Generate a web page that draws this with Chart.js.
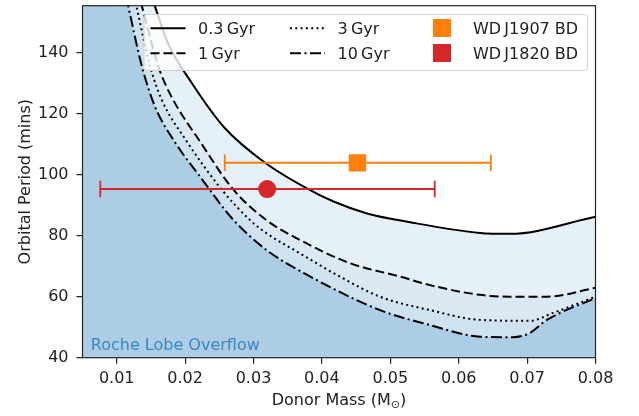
<!DOCTYPE html>
<html>
<head>
<meta charset="utf-8">
<script src="https://cdn.jsdelivr.net/npm/chart.js@4.4.1/dist/chart.umd.min.js"></script>
<style>
  html, body { margin: 0; padding: 0; background: #fff; }
  #wrap { width: 639px; height: 416px; }
</style>
</head>
<body>
<div id="wrap"><canvas id="periodChart" width="639" height="416"></canvas></div>
<script>
// axis ticks
const xTicks = [0.01, 0.02, 0.03, 0.04, 0.05, 0.06, 0.07, 0.08];
const yTicks = [40, 60, 80, 100, 120, 140];

// period minimum tracks (donor mass in Msun, period in mins)
// first two points sit above the plot so the fill covers the left side
const mass03   = [0.005, 0.0140, 0.0156, 0.0175, 0.0210, 0.0258, 0.0317, 0.0378, 0.0417, 0.0466, 0.0529, 0.0631, 0.0675, 0.0800];
const period03 = [165,   165,    155.1,  143.1,  130.0,  115.3,  103.9,  95.5,   91.2,   87.3,   84.4,   80.9,   80.6,   86.2];

const mass1   = [0.005, 0.0124, 0.0137, 0.0161, 0.0180, 0.0222, 0.0271, 0.0319, 0.0368, 0.0441, 0.0514, 0.0558, 0.0631, 0.0675, 0.0729, 0.0800];
const period1 = [165,   165,    155.1,  135.4,  125.6,  110.8,  95.0,   85.1,   78.6,   71.0,   66.6,   63.8,   60.6,   60.0,   60.0,   62.9];

const mass3   = [0.005, 0.0119, 0.0129, 0.0149, 0.0166, 0.0201, 0.0254, 0.0295, 0.0319, 0.0368, 0.0427, 0.0485, 0.0558, 0.0631, 0.0704, 0.0738, 0.0800];
const period3 = [165,   165,    155.1,  135.4,  124.5,  111.4,  95.0,   85.1,   80.8,   74.2,   66.5,   60.0,   55.6,   52.4,   52.1,   54.7,   60.0];

const mass10   = [0.005, 0.0107, 0.0117, 0.0137, 0.0156, 0.0183, 0.0222, 0.0271, 0.0319, 0.0383, 0.0485, 0.0558, 0.0631, 0.0679, 0.0704, 0.0729, 0.0800];
const period10 = [165,   165,    155.1,  135.4,  122.3,  111.4,  99.3,   85.1,   75.3,   66.6,   55.6,   50.7,   46.9,   46.7,   48.1,   52.4,   59.6];

// observed brown dwarf companions
const objNames  = ['WD\u2009J1907 BD', 'WD\u2009J1820 BD'];
const objMass   = [0.0452, 0.0320];
const objMassLo = [0.0258, 0.0076];
const objMassHi = [0.0647, 0.0565];
const objPeriod = [103.9, 95.3];

const trackNames = ['0.3\u2009Gyr', '1\u2009Gyr', '3\u2009Gyr', '10\u2009Gyr'];

const FONT = '"DejaVu Sans", sans-serif';
const TEXT = '#222222';
const ORANGE = '#ff7f0e';
const RED = '#d62728';

const DASHES = [[], [9, 4], [2, 3.3], [11, 3.5, 2, 3.5]];

function pts(xs, ys) {
  return xs.map((x, i) => ({ x: x, y: ys[i] }));
}

function track(label, xs, ys, dash, fillAlpha) {
  return {
    type: 'line', label: label, data: pts(xs, ys),
    borderColor: '#000', borderWidth: 2, borderDash: dash,
    pointRadius: 0, cubicInterpolationMode: 'monotone',
    fill: 'start', backgroundColor: 'rgba(31,119,180,' + fillAlpha + ')',
    order: 3
  };
}

function errBar(i, color) {
  return {
    type: 'line', label: objNames[i] + ' err',
    data: [{ x: objMassLo[i], y: objPeriod[i] }, { x: objMassHi[i], y: objPeriod[i] }],
    borderColor: color, borderWidth: 2, fill: false,
    pointStyle: 'line', rotation: 90, pointRadius: 8.3,
    pointBorderColor: color, pointBorderWidth: 1.8,
    order: 2
  };
}

// frame, axis titles, region label and matplotlib style legend
const decorPlugin = {
  id: 'decor',
  afterDatasetsDraw(chart) {
    const ctx = chart.ctx;
    const a = chart.chartArea;
    ctx.save();

    ctx.font = '16px ' + FONT;
    ctx.fillStyle = '#3d87c1';
    ctx.textAlign = 'left';
    ctx.textBaseline = 'alphabetic';
    ctx.fillText('Roche Lobe Overflow', a.left + 8.3, a.bottom - 7.7);

    ctx.strokeStyle = '#222';
    ctx.lineWidth = 1.2;
    ctx.strokeRect(a.left, a.top, a.right - a.left, a.bottom - a.top);

    // x title with subscript sun symbol
    ctx.fillStyle = TEXT;
    const t1 = 'Donor Mass (M', t2 = '\u2299', t3 = ')';
    ctx.font = '16px ' + FONT;
    const w1 = ctx.measureText(t1).width, w3 = ctx.measureText(t3).width;
    ctx.font = '11px ' + FONT;
    const w2 = ctx.measureText(t2).width;
    let x = (a.left + a.right) / 2 - (w1 + w2 + w3) / 2;
    const base = a.bottom + 47;
    ctx.font = '16px ' + FONT;
    ctx.fillText(t1, x, base);
    ctx.font = '11px ' + FONT;
    ctx.fillText(t2, x + w1, base + 3);
    ctx.font = '16px ' + FONT;
    ctx.fillText(t3, x + w1 + w2, base);

    // y title
    ctx.save();
    ctx.translate(29.5, (a.top + a.bottom) / 2);
    ctx.rotate(-Math.PI / 2);
    ctx.textAlign = 'center';
    ctx.fillText('Orbital Period (mins)', 0, 0);
    ctx.restore();

    // legend
    const bw = 443.5, bh = 56;
    const bx = a.right - 8.5 - bw, by = a.top + 8.3;
    ctx.beginPath();
    ctx.roundRect(bx + 0.5, by + 0.5, bw, bh, 3);
    ctx.fillStyle = 'rgba(255,255,255,0.8)';
    ctx.fill();
    ctx.strokeStyle = '#d0d0d0';
    ctx.lineWidth = 1;
    ctx.stroke();

    const rowLine = [by + 14.3, by + 39.3];
    const rowBase = [by + 20.3, by + 45.3];
    const cols = [bx + 7, bx + 146.5];
    ctx.font = '16px ' + FONT;
    ctx.textAlign = 'left';
    for (let i = 0; i < 4; i++) {
      const c = Math.floor(i / 2), r = i % 2;
      ctx.beginPath();
      ctx.setLineDash(DASHES[i]);
      ctx.strokeStyle = '#000';
      ctx.lineWidth = 2;
      ctx.moveTo(cols[c], rowLine[r]);
      ctx.lineTo(cols[c] + 35, rowLine[r]);
      ctx.stroke();
      ctx.setLineDash([]);
      ctx.fillStyle = TEXT;
      ctx.fillText(trackNames[i], cols[c] + 47.5, rowBase[r]);
    }
    const mcol = [ORANGE, RED];
    for (let i = 0; i < 2; i++) {
      const cx = bx + 298.5, cy = rowLine[i] - 0.3;
      ctx.fillStyle = mcol[i];
      ctx.fillRect(cx - 9, cy - 9, 18, 18);
      ctx.fillStyle = TEXT;
      ctx.fillText(objNames[i], bx + 329.5, rowBase[i]);
    }
    ctx.restore();
  }
};

new Chart(document.getElementById('periodChart'), {
  data: {
    datasets: [
      {
        type: 'scatter', label: objNames[0],
        data: [{ x: objMass[0], y: objPeriod[0] }],
        pointStyle: 'rect', pointRadius: 12.2, backgroundColor: ORANGE,
        borderColor: ORANGE, borderWidth: 0, order: 1
      },
      {
        type: 'scatter', label: objNames[1],
        data: [{ x: objMass[1], y: objPeriod[1] }],
        pointStyle: 'circle', pointRadius: 9, backgroundColor: RED,
        borderColor: RED, borderWidth: 0, order: 1
      },
      errBar(0, ORANGE),
      errBar(1, RED),
      track(trackNames[0], mass03, period03, DASHES[0], 0.11),
      track(trackNames[1], mass1, period1, DASHES[1], 0.06),
      track(trackNames[2], mass3, period3, DASHES[2], 0.06),
      track(trackNames[3], mass10, period10, DASHES[3], 0.2)
    ]
  },
  options: {
    responsive: false,
    animation: false,
    devicePixelRatio: 1,
    layout: { autoPadding: false, padding: { left: 0, right: 43.5, top: 5.7, bottom: 0 } },
    plugins: {
      legend: { display: false },
      tooltip: { enabled: false },
      filler: { drawTime: 'beforeDatasetsDraw' }
    },
    scales: {
      x: {
        type: 'linear', min: 0.005, max: 0.08,
        afterBuildTicks: s => { s.ticks = xTicks.map(v => ({ value: v })); },
        afterFit: s => { s.height = 58.3; s.paddingLeft = 0; s.paddingRight = 0; },
        ticks: {
          color: TEXT, font: { family: FONT, size: 16 }, padding: 6,
          maxRotation: 0, callback: v => v.toFixed(2)
        },
        grid: { drawOnChartArea: false, tickLength: 6, color: '#222', lineWidth: 1.2 },
        border: { display: false }
      },
      y: {
        type: 'linear', min: 40, max: 155.4,
        afterBuildTicks: s => { s.ticks = yTicks.map(v => ({ value: v })); },
        afterFit: s => { s.width = 82.5; s.paddingTop = 0; s.paddingBottom = 0; },
        ticks: {
          color: TEXT, font: { family: FONT, size: 16 }, padding: 8,
          callback: v => String(v)
        },
        grid: { drawOnChartArea: false, tickLength: 6, color: '#222', lineWidth: 1.2 },
        border: { display: false }
      }
    }
  },
  plugins: [decorPlugin]
});
</script>
</body>
</html>
